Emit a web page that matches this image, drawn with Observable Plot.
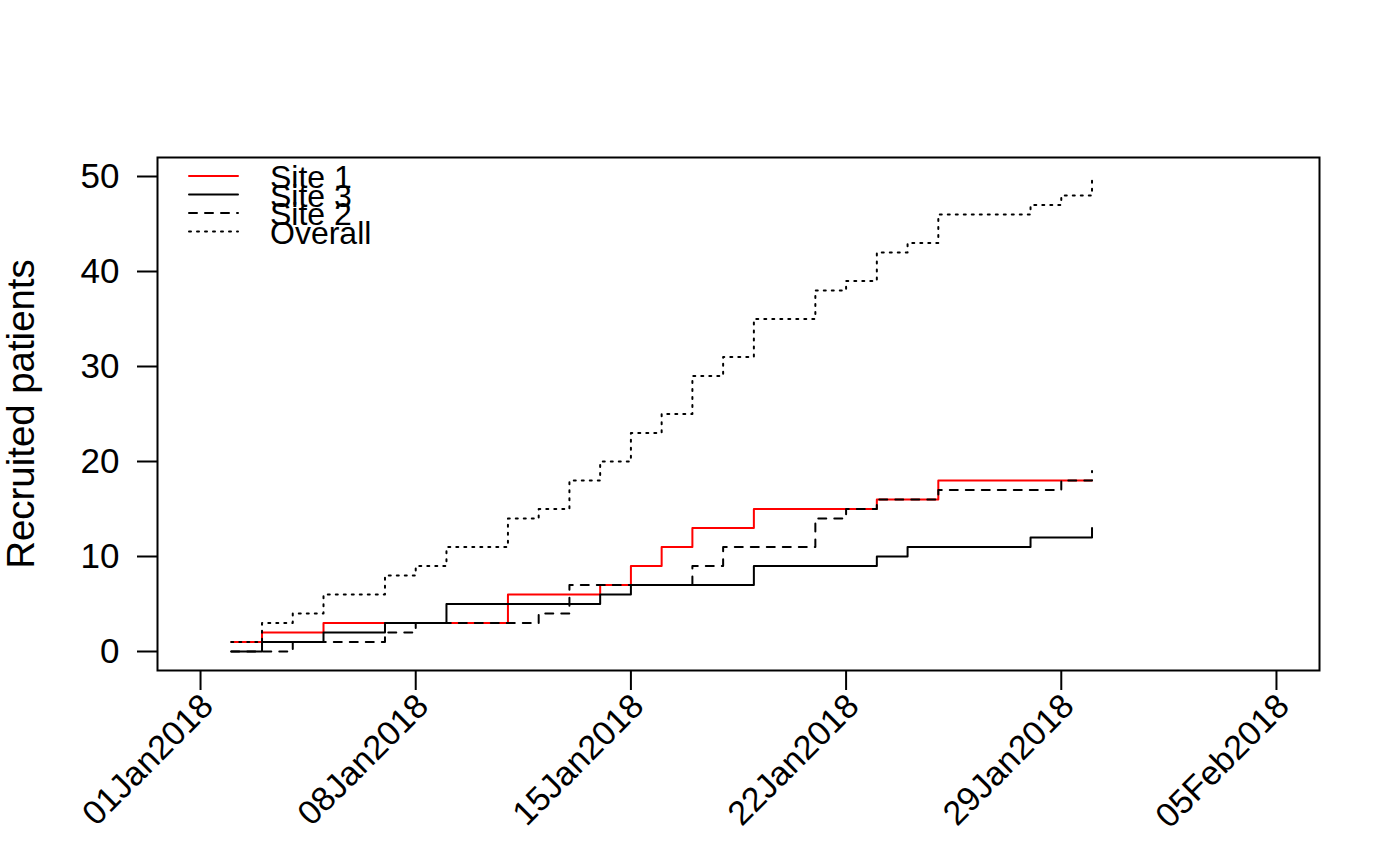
<!DOCTYPE html>
<html><head><meta charset="utf-8">
<script src="https://cdn.jsdelivr.net/npm/d3@7"></script>
<script src="https://cdn.jsdelivr.net/npm/@observablehq/plot@0.6"></script>
<style>
html,body{margin:0;padding:0;background:#fff;}
#chart{width:1400px;height:866px;}
</style></head><body><div id="chart"></div>
<script>
// ---- data ----
const dates = ["2018-01-02","2018-01-03","2018-01-04","2018-01-05","2018-01-06","2018-01-07","2018-01-08","2018-01-09","2018-01-10","2018-01-11","2018-01-12","2018-01-13","2018-01-14","2018-01-15","2018-01-16","2018-01-17","2018-01-18","2018-01-19","2018-01-20","2018-01-21","2018-01-22","2018-01-23","2018-01-24","2018-01-25","2018-01-26","2018-01-27","2018-01-28","2018-01-29","2018-01-30"];
const site1   = [1,2,2,3,3,3,3,3,3,6,6,6,7,9,11,13,13,15,15,15,15,16,16,18,18,18,18,18,18];
const site3   = [0,1,1,2,2,3,3,5,5,5,5,5,6,7,7,7,7,9,9,9,9,10,11,11,11,11,12,12,13];
const site2   = [0,0,1,1,1,2,3,3,3,3,4,7,7,7,7,9,11,11,11,14,15,16,16,17,17,17,17,18,19];
const overall = [1,3,4,6,6,8,9,11,11,14,15,18,20,23,25,29,31,35,35,38,39,42,43,46,46,46,47,48,50];
const seriesNames = ["Site 1","Site 3","Site 2","Overall"];
const seriesColors = ["#FF0000","#000000","#000000","#000000"];
const seriesDash = [null, null, "8,8", "2,6"];
const xTickDates = ["2018-01-01","2018-01-08","2018-01-15","2018-01-22","2018-01-29","2018-02-05"];
const yTicks = [0,10,20,30,40,50];
const yLabel = "Recruited patients";

// ---- build ----
const seriesValues = [site1, site3, site2, overall];
const parse = s => new Date(s + "T00:00:00Z");
const series = seriesNames.map((name, i) => ({
  name, color: seriesColors[i], dash: seriesDash[i],
  rows: dates.map((d, j) => ({date: parse(d), value: seriesValues[i][j]}))
}));
const xTicks = xTickDates.map(parse);
const x0 = xTicks[0], x1 = xTicks[xTicks.length - 1];
const xpad = (x1 - x0) * 0.04;
const ypad = (d3.max(yTicks) - d3.min(yTicks)) * 0.04;
const fmt = d3.utcFormat("%d%b%Y");
const FONT = "'Liberation Sans', Arial, Helvetica, sans-serif";

const plot = Plot.plot({
  width: 1400, height: 866,
  marginLeft: 157, marginRight: 81, marginTop: 157, marginBottom: 196,
  style: {fontFamily: FONT, background: "white", color: "black", overflow: "visible"},
  x: {type: "utc", domain: [new Date(+x0 - xpad), new Date(+x1 + xpad)]},
  y: {domain: [d3.min(yTicks) - ypad, d3.max(yTicks) + ypad]},
  marks: [
    Plot.frame({stroke: "black", strokeWidth: 2}),
    Plot.axisY({ticks: yTicks, tickSize: 20, tickPadding: 18, fontSize: 35, label: null, strokeWidth: 2}),
    Plot.axisX({ticks: xTicks, tickSize: 20, tickFormat: () => "", label: null, strokeWidth: 2}),
    Plot.text(xTicks, {x: d => d, frameAnchor: "bottom", text: d => fmt(d), rotate: -45,
      textAnchor: "end", lineAnchor: "middle", dx: 7, dy: 30, fontSize: 34, fill: "black"}),
    ...series.map(s => Plot.line(s.rows, {
      x: "date", y: "value", curve: "step-after", stroke: s.color, strokeWidth: 2,
      strokeDasharray: s.dash ?? undefined, strokeLinecap: "round", strokeLinejoin: "round"
    }))
  ]
});
document.getElementById("chart").appendChild(plot);

// y label
const svg = d3.select(plot);
svg.append("text")
  .attr("transform", "translate(34,414) rotate(-90)")
  .attr("text-anchor", "middle")
  .attr("font-size", 38.4).attr("font-family", FONT).attr("fill", "black")
  .text(yLabel);

// legend
const lg = svg.append("g");
const rowY = [176, 194.5, 213, 231.5];
series.forEach((s, i) => {
  lg.append("line").attr("x1", 189).attr("x2", 238).attr("y1", rowY[i]).attr("y2", rowY[i])
    .attr("stroke", s.color).attr("stroke-width", 2).attr("stroke-linecap", "round")
    .attr("stroke-dasharray", s.dash);
  lg.append("text").attr("x", 270).attr("y", rowY[i] + 12)
    .attr("text-anchor", "start")
    .attr("font-size", 32).attr("font-family", FONT).attr("fill", "black").text(s.name);
});
</script></body></html>
